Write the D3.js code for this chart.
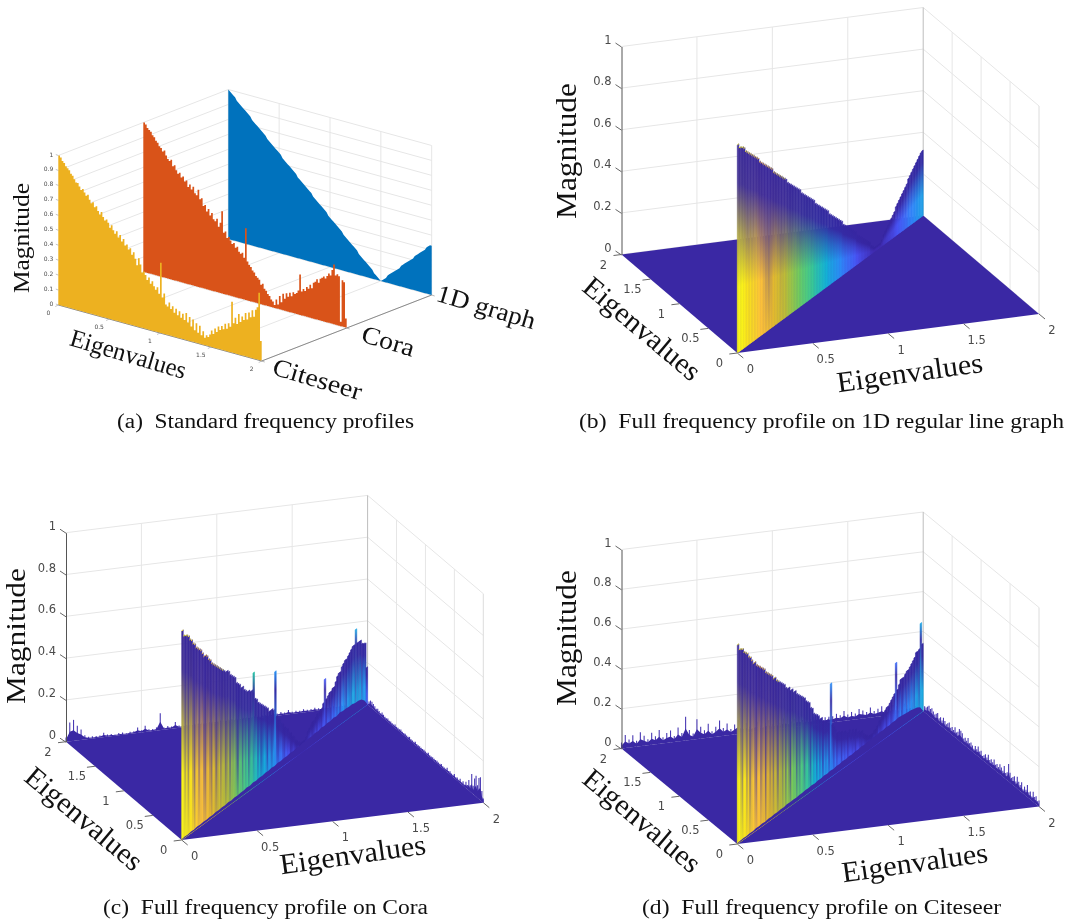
<html>
<head>
<script src="https://d3js.org/d3.v7.min.js"></script>
<style>
body { margin: 0; background: white; }
svg { filter: blur(0.4px); }
.tick { font-family: "DejaVu Sans", sans-serif; fill: #4a4a4a; }
.big { font-family: "Liberation Serif", serif; fill: #111; }
</style>
</head>
<body>
<svg width="1068" height="924"></svg>
<script>
// values, one entry per eigenvalue bin (0..2)
const profile1D = [1.00,.99,.98,.97,.96,.94,.93,.92,.91,.90,.89,.88,.87,.86,.84,.83,.82,.81,.80,.79,.78,.77,.76,.74,.73,.72,.71,.70,.69,.68,.67,.66,.64,.63,.62,.61,.60,.59,.58,.57,.56,.54,.53,.52,.51,.50,.49,.48,.47,.46,.44,.43,.42,.41,.40,.39,.38,.37,.36,.34,.33,.32,.31,.30,.29,.28,.27,.26,.24,.23,.22,.21,.20,.19,.18,.17,.16,.14,.13,.12,.11,.10,.09,.08,.07,.06,.04,.03,.02,.01,.00,.01,.02,.03,.05,.06,.07,.08,.09,.10,.11,.12,.14,.15,.16,.17,.18,.19,.20,.21,.23,.24,.25,.26,.27,.28,.29,.31,.32,.33];
const profileCora = [1.00,.99,.97,.96,.95,.93,.92,.90,.89,.87,.86,.84,.85,.82,.80,.79,.80,.76,.77,.74,.72,.73,.70,.71,.68,.69,.65,.67,.64,.66,.62,.61,.65,.59,.60,.55,.56,.52,.54,.50,.52,.48,.47,.49,.44,.47,.55,.41,.42,.38,.39,.37,.35,.36,.33,.34,.31,.30,.31,.28,.48,.26,.24,.23,.21,.20,.18,.17,.16,.13,.14,.11,.10,.08,.07,.05,.04,.02,.06,.03,.09,.05,.11,.08,.12,.10,.13,.11,.14,.13,.14,.16,.27,.16,.18,.17,.20,.19,.22,.20,.24,.25,.27,.25,.28,.29,.30,.29,.31,.33,.32,.36,.40,.33,.34,.33,.03,.31,.30,.06];
const profileCiteseer = [1.00,.99,.97,.96,.94,.93,.92,.90,.89,.87,.85,.85,.83,.81,.82,.80,.78,.79,.76,.74,.75,.72,.73,.70,.68,.70,.67,.65,.66,.64,.61,.63,.60,.58,.60,.56,.58,.54,.56,.52,.53,.50,.51,.47,.49,.45,.41,.46,.42,.37,.38,.36,.33,.35,.31,.33,.30,.28,.30,.26,.47,.24,.27,.20,.19,.22,.18,.20,.16,.19,.15,.18,.14,.17,.13,.18,.12,.16,.10,.15,.08,.13,.07,.12,.06,.09,.05,.07,.06,.08,.11,.09,.13,.11,.15,.13,.16,.14,.18,.15,.19,.17,.34,.20,.24,.20,.27,.22,.26,.24,.29,.25,.30,.27,.32,.28,.33,.35,.45,.13];

// how far the bright colour climbs each wall column, 0 dark .. 9 bright
const streak1D = [9,9,9,8,8,8,7,7,8,8,8,9,9,8,8,7,7,6,5,5,4,5,6,7,8,8,7,7,6,7,7,8,8,7,7,7,8,8,8,7,7,7,8,8,8,8,8,8,7,8,8,8,8,8,8,8,8,8,8,8,8,8,8,8,8,8,8,8,8,8,8,8,8,8,8,8,8,8,8,8,8,8,8,8,8,8,8,8,8,8,8,8,8,8,8,8,8,8,8,8,8,8,8,8,8,8,8,8,8,8,8,8,8,8,8,8,8,8,8,8];
const streakCora = [9,8,3,7,2,8,9,4,1,6,8,2,7,9,3,1,6,8,4,2,9,7,1,5,8,3,6,9,2,4,8,1,7,5,9,3,0,6,8,2,7,4,9,1,5,8,3,6,9,2,7,1,4,8,6,0,9,5,2,7,8,3,1,6,9,4,2,7,5,8,0,3,9,6,1,8,4,7,2,5,9,3,6,8,1,4,7,2,9,5,3,8,6,1,7,4,2,9,5,8,3,6,1,7,9,4,2,8,5,3,7,9,1,6,4,8,2,9,7,5];
const streakCiteseer = [8,9,5,2,8,7,3,9,1,6,8,4,1,7,9,2,5,8,0,6,9,3,7,2,8,5,1,9,6,3,8,2,7,4,0,9,6,8,1,5,3,9,7,2,6,8,4,1,9,5,7,2,8,3,6,0,9,4,7,1,8,5,2,9,3,6,8,1,7,4,9,2,5,8,3,6,1,9,7,4,2,8,5,3,9,6,1,7,8,4,2,9,5,3,7,8,1,6,9,2,4,7,8,3,5,9,1,6,8,2,7,4,9,5,3,8,6,2,9,7];

// floor noise standing on the far edges and in front of the wall
const backEdgeCora = [.02,.09,.10,.07,.05,.02,.01,.01,.01,.01,.02,.01,.01,.005,.01,.01,.005,.01,.01,.025,.01,.03,.01,.01,.015,.08,.01,.015,.01,.03,.01,.01,.01,.01,.01,.01,.01,.01,.01,.01,.01,.01,.01,.01,.01,.01,.01,.01,.01,.01,.01,.01,.01,.01,.01,.015,.01,.015,.01,.02,.01,.012,.01,.015,.01,.012,.015,.01,.012,.015,.01,.012,.01,.015,.012,.01,.015,.012,.02,.01];
const sideEdgeCora = [.02,.05,.11,.10,.06,.10,.08,.04,.09,.03,.05,.02,.03,.01,.02,.01,.02,.01,.015,.01,.02,.01,.01,.015,.01,.02,.01,.01,.01,.015,.01,.01,.012,.01,.01,.012,.01,.01,.015,.01,.01,.012,.01,.01,.012,.01,.01,.015,.01,.01,.01,.015,.01,.01,.012,.01,.01,.015,.01,.012,.01,.015,.01,.01,.012,.01,.015,.01,.012,.015,.02,.01,.015,.02,.015,.02,.025,.03,.03,.02];
const hemCora = [.004,.006,.005,.008,.007,.01,.009,.012,.01,.013,.012,.015,.014,.016,.015,.018,.016,.02,.018,.021,.02,.024,.022,.026,.024,.028,.026,.03,.028,.032,.03,.035,.032,.036,.034,.038,.036,.04,.038,.042,.04,.044,.042,.047,.044,.05,.048,.052,.05,.055,.052,.058,.055,.056,.054,.055,.05,.05,.045,.03];
const backEdgeCiteseer = [.03,.065,.04,.06,.03,.07,.05,.03,.06,.04,.07,.03,.05,.06,.03,.07,.04,.12,.05,.03,.10,.06,.04,.07,.03,.05,.08,.04,.06,.03,.05,.07,.04,.05,.03,.04,.05,.03,.04,.05,.03,.04,.03,.05,.04,.03,.04,.05,.03,.04,.03,.04,.05,.03,.03,.03,.03,.04,.03,.05,.03,.04,.03,.05,.04,.03,.05,.03,.04,.05,.03,.04,.05,.04,.03,.05,.04,.05,.03,.04];
const sideEdgeCiteseer = [.03,.02,.04,.03,.05,.02,.04,.03,.06,.03,.04,.02,.05,.03,.04,.06,.03,.05,.04,.03,.05,.087,.04,.03,.06,.03,.04,.05,.03,.04,.03,.05,.03,.04,.03,.05,.03,.04,.03,.02,.04,.03,.05,.03,.04,.02,.03,.04,.03,.05,.03,.04,.03,.05,.057,.06,.04,.03,.05,.03,.04,.03,.05,.04,.03,.04,.05,.03,.04,.03,.05,.04,.03,.04,.05,.04,.05,.04,.03,.03];
const hemCiteseer = [.004,.006,.008,.007,.01,.009,.012,.011,.014,.012,.015,.014,.017,.016,.019,.018,.021,.02,.022,.021,.024,.023,.026,.025,.028,.026,.03,.028,.032,.03,.034,.032,.036,.034,.038,.036,.04,.038,.042,.04,.044,.042,.046,.044,.048,.046,.05,.048,.052,.05,.054,.052,.056,.054,.052,.05,.048,.044,.04,.03];

const datasetNames = ["Citeseer", "Cora", "1D graph"];
const datasetColors = ["#edb120", "#d95319", "#0072bd"];
const lambdaTicks = [0, .5, 1, 1.5, 2];
const magTicksA = [0, .1, .2, .3, .4, .5, .6, .7, .8, .9, 1];
const magTicks = [0, .2, .4, .6, .8, 1];
const parulaStops = ["#3e26a8","#4852f4","#2d87f7","#12b1d6","#37c897","#6ecc5f","#b8bd38","#e4b92d","#fcc03a","#f8de1f","#f9fb15"];
const floorColor = "#3a28a4";
const gridColor = "#e6e6e6";

var svg = d3.select("svg");
var defs = svg.append("defs");
var parula = d3.scaleLinear().domain(d3.range(11).map(i => i / 10)).range(parulaStops);
var heightColor = d3.scalePow().exponent(1.2).domain([0, 1]).range([0, 1]).clamp(true);

function bigLabel(text, cx, cy, angle, size, len) {
    svg.append("text").attr("class", "big")
        .attr("transform", "translate(" + cx + "," + cy + ") rotate(" + angle + ")")
        .attr("text-anchor", "middle").attr("font-size", size)
        .attr("textLength", len).attr("lengthAdjust", "spacingAndGlyphs")
        .text(text);
}

function caption(text, x0, x1, y) {
    svg.append("text").attr("class", "big")
        .attr("x", x0).attr("y", y).attr("font-size", 20.5)
        .attr("textLength", x1 - x0).attr("lengthAdjust", "spacingAndGlyphs")
        .text(text);
}

// ---------- panel (a): three profiles standing one behind the other
function drawProfiles() {
    var org = [58.3, 305], run = [203.4, 56], step = [85, -33], tall = 149.5;
    var xx = d3.scaleLinear().domain([0, 2]).range([0, run[0]]);
    var xy = d3.scaleLinear().domain([0, 2]).range([0, run[1]]);
    var dx = d3.scalePoint().domain(datasetNames).range([0, 2 * step[0]]);
    var dy = d3.scalePoint().domain(datasetNames).range([0, 2 * step[1]]);
    var zs = d3.scaleLinear().domain([0, 1]).range([0, -tall]);
    var px = (l, d) => org[0] + xx(l) + dx(d);
    var py = (l, d, z) => org[1] + xy(l) + dy(d) + zs(z);
    var g = svg.append("g");
    var seg = (a, b, c, w) => g.append("line").attr("x1", a[0]).attr("y1", a[1]).attr("x2", b[0]).attr("y2", b[1])
        .attr("stroke", c).attr("stroke-width", w || 1);
    var pt = (l, d, z) => [px(l, d), py(l, d, z)];
    var first = datasetNames[0], last = datasetNames[2];

    magTicksA.forEach(z => {
        seg(pt(0, first, z), pt(0, last, z), gridColor);
        seg(pt(0, last, z), pt(2, last, z), gridColor);
    });
    lambdaTicks.forEach(l => {
        seg(pt(l, last, 0), pt(l, last, 1), gridColor);
        seg(pt(l, first, 0), pt(l, last, 0), gridColor);
    });
    datasetNames.forEach(d => seg(pt(0, d, 0), pt(2, d, 0), gridColor));
    seg(pt(2, first, 0), pt(2, last, 0), "#8a8a8a");
    seg(pt(0, first, 0), pt(2, first, 0), "#8a8a8a");

    var series = [profile1D, profileCora, profileCiteseer];
    [2, 1, 0].forEach(k => {
        var d = datasetNames[k], vals = series[2 - k];
        var bin = d3.scaleLinear().domain([0, vals.length]).range([0, 2]);
        var rows = vals.map((v, i) => [bin(i), v]).concat([[2, vals[vals.length - 1]]]);
        var area = d3.area().curve(k == 2 ? d3.curveLinear : d3.curveStepAfter)
            .x(r => px(r[0], d)).y0(r => py(r[0], d, 0)).y1(r => py(r[0], d, r[1]));
        g.append("path").attr("d", area(rows)).attr("fill", datasetColors[k]);
    });

    magTicksA.forEach(z => {
        seg([org[0] - 2.5, py(0, first, z) - 1], pt(0, first, z), "#9a9a9a", .6);
        g.append("text").attr("class", "tick").attr("font-size", 6).attr("text-anchor", "end")
            .attr("x", org[0] - 5).attr("y", py(0, first, z) + 1).text(z);
    });
    lambdaTicks.forEach(l => {
        var p = pt(l, first, 0);
        seg(p, [p[0] - 3, p[1] + 1.5], "#9a9a9a", .6);
        g.append("text").attr("class", "tick").attr("font-size", 6).attr("text-anchor", "middle")
            .attr("x", p[0] - 10).attr("y", p[1] + 9.5).text(l);
    });
    datasetNames.forEach(d => {
        var p = pt(2, d, 0);
        seg(p, [p[0] + 3, p[1] + 1], "#8a8a8a", .6);
    });
}

// ---------- panels (b), (c), (d): full profile surface
function drawSurface(cfg) {
    var xx = d3.scaleLinear().domain([0, 2]).range([0, cfg.right[0] - cfg.front[0]]);
    var xy = d3.scaleLinear().domain([0, 2]).range([0, cfg.right[1] - cfg.front[1]]);
    var yx = d3.scaleLinear().domain([0, 2]).range([0, cfg.left[0] - cfg.front[0]]);
    var yy = d3.scaleLinear().domain([0, 2]).range([0, cfg.left[1] - cfg.front[1]]);
    var zs = d3.scaleLinear().domain([0, 1]).range([0, -cfg.tall]);
    var pt = (a, b, z) => [cfg.front[0] + xx(a) + yx(b), cfg.front[1] + xy(a) + yy(b) + zs(z)];
    var g = svg.append("g");
    var seg = (a, b, c, w) => g.append("line").attr("x1", a[0]).attr("y1", a[1]).attr("x2", b[0]).attr("y2", b[1])
        .attr("stroke", c).attr("stroke-width", w || 1);
    var outline = d3.line();

    // box grid
    magTicks.forEach(z => {
        seg(pt(0, 2, z), pt(2, 2, z), gridColor);
        seg(pt(2, 2, z), pt(2, 0, z), gridColor);
    });
    lambdaTicks.slice(1, 4).forEach(l => {
        seg(pt(l, 2, 0), pt(l, 2, 1), gridColor);
        seg(pt(2, l, 0), pt(2, l, 1), gridColor);
    });
    seg(pt(2, 2, 0), pt(2, 2, 1), "#bdbdbd");
    seg(pt(2, 0, 0), pt(2, 0, 1), "#dcdcdc");

    // noise behind the floor
    function edgeSpikes(vals, place) {
        var bin = d3.scaleLinear().domain([0, vals.length]).range([0, 2]);
        vals.forEach((v, i) => seg(place(bin(i), 0), place(bin(i), v), "#4a3ab4", 1.1));
        var tops = vals.map((v, i) => place(bin(i), v / 2));
        g.append("path").attr("fill", floorColor)
            .attr("d", outline([place(0, 0)].concat(tops, [place(2, 0)])) + "Z");
    }
    if (cfg.backEdge) edgeSpikes(cfg.backEdge, (l, z) => pt(l, 2, z));
    if (cfg.sideEdge) edgeSpikes(cfg.sideEdge, (l, z) => pt(2, l, z));

    // floor
    g.append("path").attr("fill", floorColor)
        .attr("d", outline([pt(0, 0, 0), pt(2, 0, 0), pt(2, 2, 0), pt(0, 2, 0)]) + "Z");

    // wall on the diagonal
    var vals = cfg.profile, n = vals.length;
    var bin = d3.scaleLinear().domain([0, n]).range([0, 2]);
    vals.forEach((raw, i) => {
        var env = d3.median(vals.slice(Math.max(0, i - 3), i + 4));
        var spike = raw > env + .05;
        var z = spike ? raw : env;
        if (i == 0) z = raw;
        var base = parula(heightColor(env));
        var toBase = d3.interpolateRgb("#35249e", base);
        var mix = t => toBase(Math.min(1, t));
        var s = .3 + .7 * cfg.streak[i] / 9;
        if (Math.abs(zs(z)) < .5) return;
        var id = cfg.id + "c" + i;
        var topCol = spike ? base : mix(.04 * s);
        var grad = defs.append("linearGradient").attr("id", id).attr("gradientUnits", "userSpaceOnUse")
            .attr("x1", 0).attr("x2", 0)
            .attr("y1", pt(bin(i), bin(i), z)[1]).attr("y2", pt(bin(i), bin(i), 0)[1]);
        [[0, topCol], [.18, mix(.08 * s)], [.42, mix(.6 * s)], [.68, mix(1.2 * s)], [1, mix(.7 + .5 * s)]].forEach(st =>
            grad.append("stop").attr("offset", st[0]).attr("stop-color", st[1]));
        var nextL = bin(i + 1);
        g.append("path").attr("fill", "url(#" + id + ")").attr("stroke", "url(#" + id + ")").attr("stroke-width", .6)
            .attr("d", outline([pt(bin(i), bin(i), 0), pt(nextL, nextL, 0), pt(nextL, nextL, z), pt(bin(i), bin(i), z)]) + "Z");
        if (env > .66) seg(pt(bin(i), bin(i), z), pt(nextL, nextL, z), base, .9);
    });

    // noise of the near floor, in front of the wall foot
    if (cfg.hem) {
        var hbin = d3.scaleLinear().domain([0, cfg.hem.length]).range([0, 2]);
        var rim = cfg.hem.map((h, i) => pt(hbin(i), hbin(i), h));
        g.append("path").attr("fill", floorColor)
            .attr("d", outline([pt(0, 0, 0)].concat(rim, [pt(2, 2, 0)])) + "Z");
    }

    // z axis, using the library axis and bending its ticks to match the view
    var zAxisScale = d3.scaleLinear().domain([0, 1]).range([pt(0, 2, 0)[1], pt(0, 2, 1)[1]]);
    var zg = g.append("g").attr("transform", "translate(" + pt(0, 2, 0)[0] + ",0)")
        .call(d3.axisLeft(zAxisScale).tickValues(magTicks).tickSizeOuter(0).tickFormat(d => d));
    zg.select(".domain").attr("stroke", "#555");
    zg.selectAll(".tick line").attr("x2", -6).attr("y2", -4).attr("stroke", "#666");
    zg.selectAll(".tick text").attr("class", "tick").attr("font-family", "DejaVu Sans").attr("font-size", 11.5)
        .attr("fill", "#4a4a4a").attr("x", -10).attr("dy", 0).attr("y", -3.5);

    // floor ticks
    lambdaTicks.forEach(l => {
        var p = pt(l, 0, 0), q = pt(0, l, 0);
        seg(p, [p[0] + 6, p[1] + 5], "#666");
        seg(q, [q[0] - 8, q[1] + 1], "#666");
        g.append("text").attr("class", "tick").attr("font-size", 11.5).attr("text-anchor", "middle")
            .attr("x", p[0] + 13).attr("y", p[1] + 20).text(l);
        g.append("text").attr("class", "tick").attr("font-size", 11.5).attr("text-anchor", "middle")
            .attr("x", q[0] - 18).attr("y", q[1] + 14).text(l);
    });
}

drawProfiles();
drawSurface({ id: "b", front: [737.3, 353], right: [1039, 314], left: [621.5, 254.5], tall: 208, profile: profile1D, streak: streak1D });
drawSurface({ id: "c", front: [181.7, 840], right: [483.3, 802.7], left: [66, 741.7], tall: 209, profile: profileCora, streak: streakCora,
    backEdge: backEdgeCora, sideEdge: sideEdgeCora, hem: hemCora });
drawSurface({ id: "d", front: [737.3, 844], right: [1039, 806.5], left: [621.5, 748.5], tall: 199, profile: profileCiteseer, streak: streakCiteseer,
    backEdge: backEdgeCiteseer, sideEdge: sideEdgeCiteseer, hem: hemCiteseer });

// text
bigLabel("Magnitude", 29, 238, -90, 24, 110);
bigLabel("Eigenvalues", 126, 362, 16.5, 25, 120);
bigLabel(datasetNames[0], 315, 387, 16.5, 25, 92);
bigLabel(datasetNames[1], 386, 349, 16.5, 25, 54);
bigLabel(datasetNames[2], 484, 315, 16.5, 25, 102);
bigLabel("Magnitude", 576, 151, -90, 30, 136);
bigLabel("Eigenvalues", 636, 336, 40, 29, 144);
bigLabel("Eigenvalues", 911, 382, -8, 29, 147);
bigLabel("Magnitude", 25, 636, -90, 27, 136);
bigLabel("Eigenvalues", 78, 826, 40, 29, 144);
bigLabel("Eigenvalues", 354, 864, -8, 29, 147);
bigLabel("Magnitude", 576, 638, -90, 30, 136);
bigLabel("Eigenvalues", 636, 828, 40, 29, 144);
bigLabel("Eigenvalues", 916, 872, -8, 29, 147);
caption("(a)\u2002Standard frequency profiles", 117, 414, 428);
caption("(b)\u2002Full frequency profile on 1D regular line graph", 579, 1064, 428);
caption("(c)\u2002Full frequency profile on Cora", 103, 428, 914);
caption("(d)\u2002Full frequency profile on Citeseer", 642, 1001, 914);
</script>
</body>
</html>
